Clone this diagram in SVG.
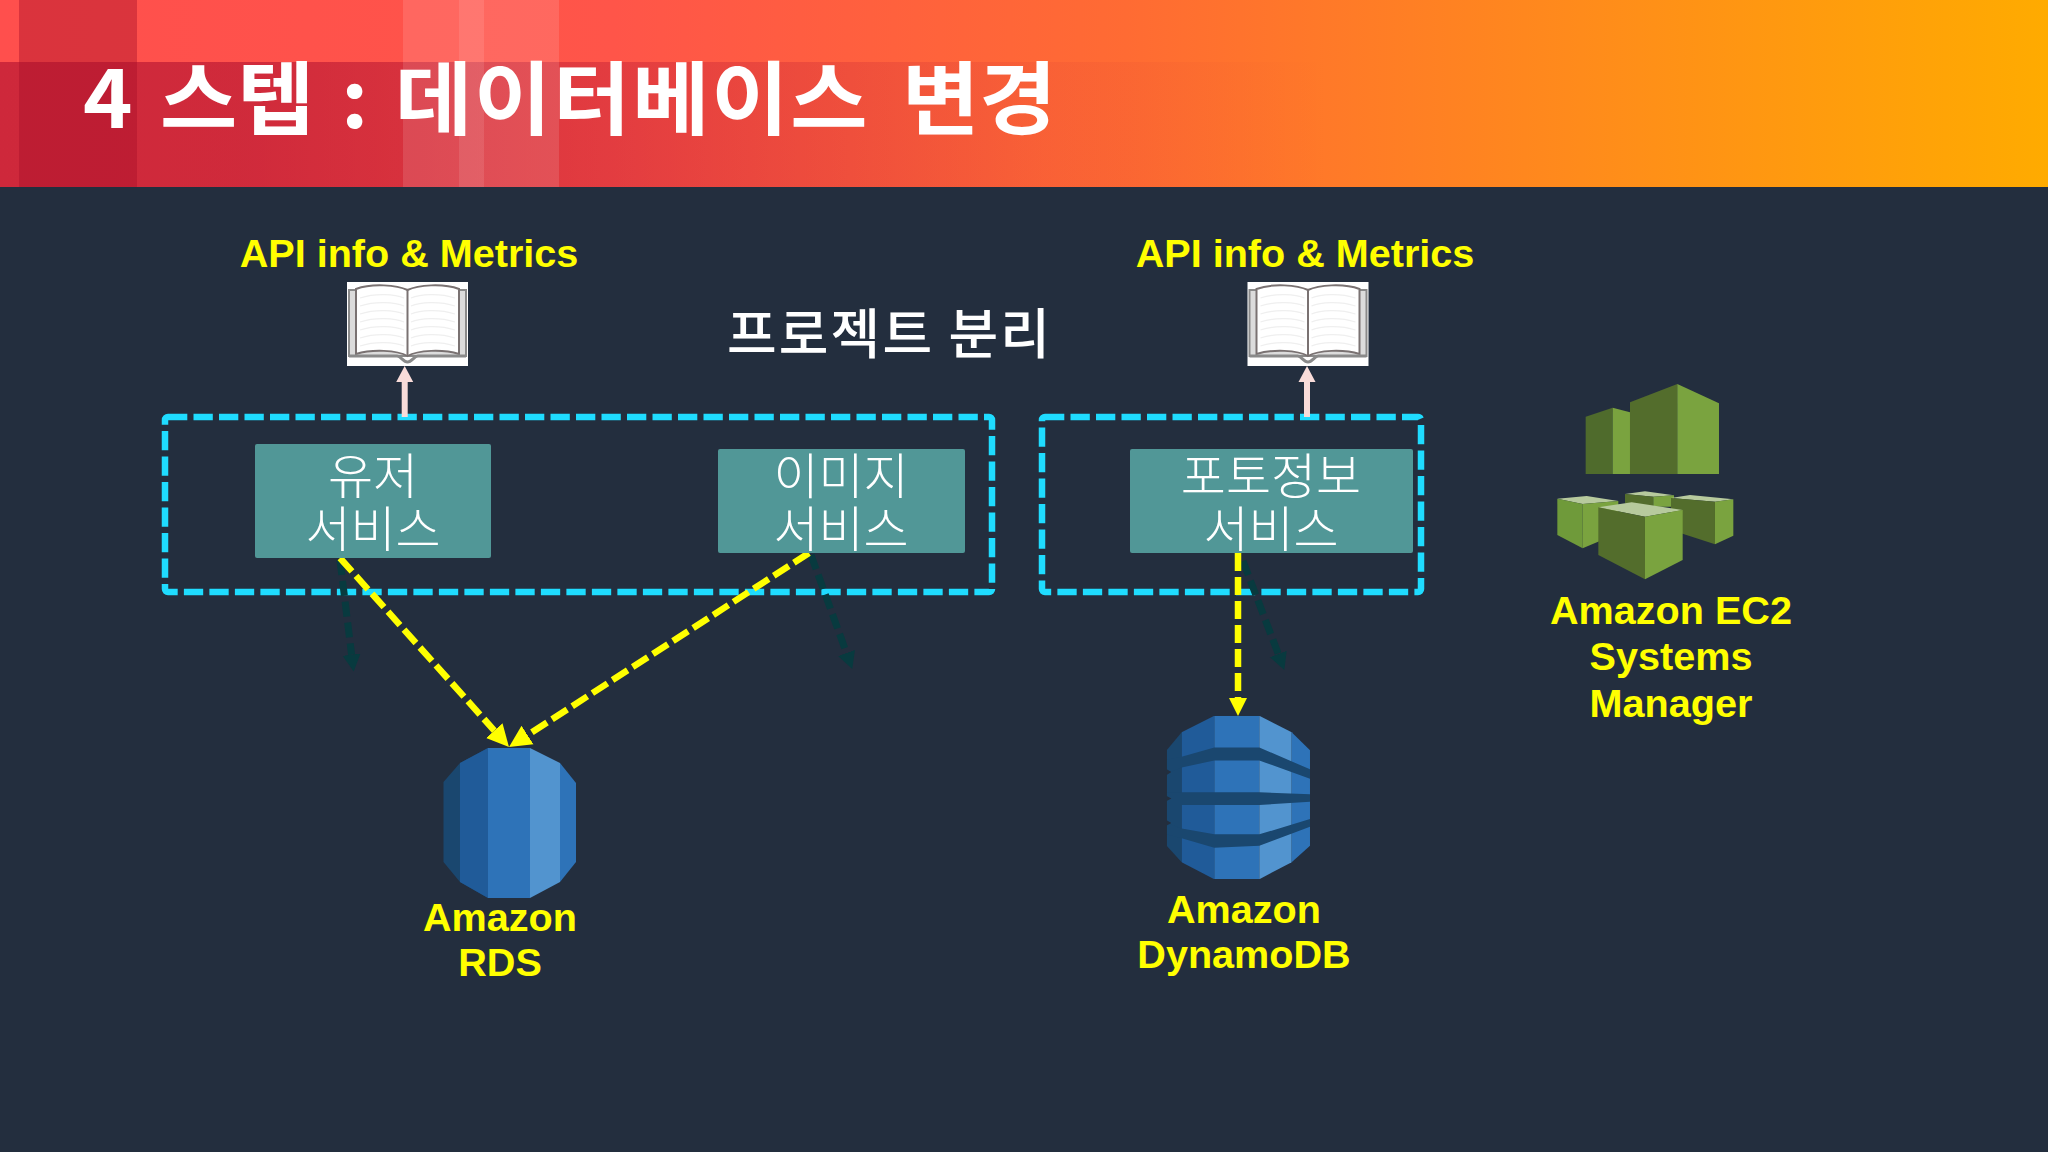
<svg xmlns="http://www.w3.org/2000/svg" xmlns:xlink="http://www.w3.org/1999/xlink" width="2048" height="1152" viewBox="0 0 2048 1152">
<style>
.lbl{font-family:"Liberation Sans",Arial,sans-serif;font-weight:700;font-size:39.6px;fill:#ffff00;text-anchor:middle}
.svc{font-family:"Noto Sans CJK KR","Noto Sans",sans-serif;font-weight:300;font-size:49px;fill:#fff;text-anchor:middle}
.box{fill:#519797}
.scope{fill:none;stroke:#1fdcff;stroke-width:6.5;stroke-dasharray:19.3 6.2}
.y{fill:none;stroke:#ffff00;stroke-width:6.5;stroke-dasharray:18 6}
.d{fill:none;stroke:#083a3f;stroke-width:7;stroke-dasharray:15 6}
.p{fill:none;stroke:#f9dcd9;stroke-width:6}
</style>
<defs>
<linearGradient id="hdr" x1="0" x2="1" y1="0" y2="0"><stop offset="0" stop-color="#ff4f4d"/><stop offset=".3" stop-color="#ff5549"/><stop offset=".55" stop-color="#ff6b33"/><stop offset=".8" stop-color="#ff8f18"/><stop offset="1" stop-color="#ffab00"/></linearGradient>
<linearGradient id="band" x1="0" x2="1" y1="0" y2="0"><stop offset="0" stop-color="#b01030" stop-opacity=".62"/><stop offset=".12" stop-color="#b01030" stop-opacity=".6"/><stop offset=".2" stop-color="#b01030" stop-opacity=".5"/><stop offset=".34" stop-color="#b01030" stop-opacity=".3"/><stop offset=".51" stop-color="#b01030" stop-opacity=".08"/><stop offset=".65" stop-color="#b01030" stop-opacity="0"/></linearGradient>
<marker id="ay" markerUnits="userSpaceOnUse" markerWidth="20" markerHeight="20" refX="0" refY="10" orient="auto"><path d="M0,1 L18,10 L0,19Z" fill="#ffff00"/></marker>
<marker id="ayl" markerUnits="userSpaceOnUse" markerWidth="24" markerHeight="24" refX="0" refY="12" orient="auto"><path d="M0,1 L22,12 L0,23Z" fill="#ffff00"/></marker>
<marker id="ad" markerUnits="userSpaceOnUse" markerWidth="20" markerHeight="20" refX="0" refY="10" orient="auto"><path d="M0,1 L17,10 L0,19Z" fill="#083a3f"/></marker>
<marker id="ap" markerUnits="userSpaceOnUse" markerWidth="18" markerHeight="20" refX="0" refY="10" orient="auto"><path d="M0,1.5 L16,10 L0,18.5Z" fill="#f9dcd9"/></marker>
<clipPath id="dyn"><path d="M553,825H688L785,868L840,915V1165L785,1208L688,1252H553L455,1208L410,1165V915L455,868Z"/></clipPath>
<g id="book">
<rect width="121" height="84" fill="#fff"/>
<path d="M2,8H119V74H2Z" fill="#dcdcdc" stroke="#8a8a8a" stroke-width="2"/>
<path d="M60.500,8C50,3 25,1 9,7V72C25,67 50,68 60.500,74C71,68 96,67 112,72V7C96,1 71,3 60.500,8Z" fill="#fff" stroke="#7a7272" stroke-width="2"/>
<path d="M60.500,8V74" stroke="#7a7272" stroke-width="2"/>
<path d="M13,16C28,11 48,12 57,16M13,24C28,19 48,20 57,24M13,32C28,27 48,28 57,32M13,40C28,35 48,36 57,40M13,48C28,43 48,44 57,48M13,56C28,51 48,52 57,56M13,64C28,59 48,60 57,64M64,16C73,12 93,11 108,16M64,24C73,20 93,19 108,24M64,32C73,28 93,27 108,32M64,40C73,36 93,35 108,40M64,48C73,44 93,43 108,48M64,56C73,52 93,51 108,56M64,64C73,60 93,59 108,64" fill="none" stroke="#efefef" stroke-width="1.200"/>
<path d="M2,74H50C54,74 56,80 60.500,80C65,80 67,74 71,74H119" fill="none" stroke="#8a8a8a" stroke-width="3"/>
</g>
</defs>
<rect width="2048" height="1152" fill="#232e3e"/>
<g id="header">
<rect width="2048" height="187" fill="url(#hdr)"/>
<rect y="62" width="2048" height="125" fill="url(#band)"/>
<rect x="19" width="118" height="187" fill="#a80f28" opacity=".42"/>
<rect x="403" width="156" height="187" fill="#fff" opacity=".12"/>
<rect x="459" width="25" height="187" fill="#fff" opacity=".1"/>
<text transform="translate(0,128) scale(1,.95)" font-family="'Noto Sans CJK KR','Noto Sans',sans-serif" font-weight="700" font-size="84" fill="#fff"><tspan x="83" y="0">4</tspan><tspan x="160" y="0">스텝</tspan><tspan x="341" y="0">:</tspan><tspan x="395" y="0" letter-spacing="1.800">데이터베이스</tspan><tspan x="902" y="0">변경</tspan></text>
</g>
<text id="title-split" x="727" y="354" font-family="'Noto Sans CJK KR','Noto Sans',sans-serif" font-weight="500" font-size="54" fill="#fff" textLength="323" lengthAdjust="spacing">프로젝트 분리</text>
<g id="scope-left"><rect class="scope" x="165" y="417" width="827" height="175" rx="3"/></g>
<g id="scope-right"><rect class="scope" x="1042" y="417" width="379" height="175" rx="3"/></g>
<g id="connectors">
<path class="p" d="M404.700,417V382" marker-end="url(#ap)"/>
<path class="p" d="M1307,417V382" marker-end="url(#ap)"/>
<path class="d" d="M340,560L351.600,654.700" marker-end="url(#ad)"/>
<path class="d" d="M811,555L846.500,653" marker-end="url(#ad)"/>
<path class="d" d="M1243,561L1278.300,654" marker-end="url(#ad)"/>
<path class="y" d="M340,558L494.300,730.600" marker-end="url(#ayl)"/>
<path class="y" d="M809,553L527.500,735.100" marker-end="url(#ayl)"/>
<path class="y" d="M1238,553V698" marker-end="url(#ay)"/>
</g>
<g id="book-left">
<text class="lbl" x="409" y="267">API info &amp; Metrics</text>
<use xlink:href="#book" href="#book" x="347" y="282"/>
</g>
<g id="book-right">
<text class="lbl" x="1305" y="267">API info &amp; Metrics</text>
<use xlink:href="#book" href="#book" x="1247.500" y="282"/>
</g>
<g id="svc-user"><rect class="box" x="255" y="444" width="236" height="114" rx="2"/><text class="svc"><tspan x="373" y="494">유저</tspan><tspan x="373" y="547">서비스</tspan></text></g>
<g id="svc-image"><rect class="box" x="718" y="449" width="247" height="104" rx="2"/><text class="svc"><tspan x="841" y="494">이미지</tspan><tspan x="841" y="547">서비스</tspan></text></g>
<g id="svc-photo"><rect class="box" x="1130" y="449" width="283" height="104" rx="2"/><text class="svc"><tspan x="1271" y="494">포토정보</tspan><tspan x="1271" y="547">서비스</tspan></text></g>
<g id="rds">
<path d="M488,748L460,763L443.500,782V862L460,882L488,898Z" fill="#1a476f"/>
<path d="M460,763L488,748V898L460,882Z" fill="#205b99"/>
<rect x="488" y="748" width="42" height="150" fill="#2e73b8"/>
<path d="M530,748L560,763V882L530,898Z" fill="#5294cf"/>
<path d="M560,763L576,783V862L560,882Z" fill="#2e73b8"/>
<text class="lbl" x="500" y="931"><tspan x="500">Amazon</tspan><tspan x="500" y="976">RDS</tspan></text>
</g>
<g id="dynamodb">
<g transform="translate(1030,400) scale(.33333,.38270)" clip-path="url(#dyn)">
<rect x="410" y="825" width="45" height="427" fill="#1a476f"/>
<rect x="455" y="825" width="98" height="427" fill="#205b99"/>
<rect x="553" y="825" width="135" height="427" fill="#2e73b8"/>
<rect x="688" y="825" width="97" height="427" fill="#5294cf"/>
<rect x="785" y="825" width="55" height="427" fill="#2e73b8"/>
<path d="M410,940L455,932L553,908H688L840,965V990L688,942H553L455,960L410,975Z" fill="#1a476f"/>
<path d="M410,1025H688L840,1030V1050L688,1058H410Z" fill="#1a476f"/>
<path d="M410,1105L455,1120L553,1135H688L840,1095V1115L688,1165L553,1170L455,1145L410,1135Z" fill="#1a476f"/>
<path d="M410,965L424,972L410,980ZM410,1035L424,1041L410,1048ZM410,1098L424,1105L410,1112Z" fill="#232e3e"/>
</g>
<text class="lbl" x="1244" y="923"><tspan x="1244">Amazon</tspan><tspan x="1244" y="968">DynamoDB</tspan></text>
</g>
<g id="ssm">
<g transform="translate(1530,370) scale(.33333)">
<path d="M167,140L248,113V312H167Z" fill="#4f6b2c"/>
<path d="M248,113L300,127V312H248Z" fill="#7aa33f"/>
<path d="M300,97L442,42V312H300Z" fill="#536d2c"/>
<path d="M442,42L567,100V312H442Z" fill="#7aa33f"/>
<path d="M285,372L345,364L432,376L370,380Z" fill="#b7ca9d"/>
<path d="M285,372L370,380V410L285,400Z" fill="#536d2c"/>
<path d="M370,380L432,376V410H370Z" fill="#7aa33f"/>
<path d="M82,386L170,378L265,393L158,402Z" fill="#b7ca9d"/>
<path d="M82,386L158,402V535L82,495Z" fill="#6f9a3a"/>
<path d="M158,402L265,393V490L158,535Z" fill="#7aa33f"/>
<path d="M423,384L480,375L610,388L555,395Z" fill="#b7ca9d"/>
<path d="M423,384L555,395V523L423,480Z" fill="#536d2c"/>
<path d="M555,395L610,388V497L555,523Z" fill="#7aa33f"/>
<path d="M205,412L305,397L458,420L345,440Z" fill="#b7ca9d"/>
<path d="M205,412L345,440V628L205,555Z" fill="#536d2c"/>
<path d="M345,440L458,420V570L345,628Z" fill="#7aa33f"/>
</g>
<text class="lbl" x="1671" y="624"><tspan x="1671">Amazon EC2</tspan><tspan x="1671" y="670">Systems</tspan><tspan x="1671" y="717">Manager</tspan></text>
</g>
</svg>
